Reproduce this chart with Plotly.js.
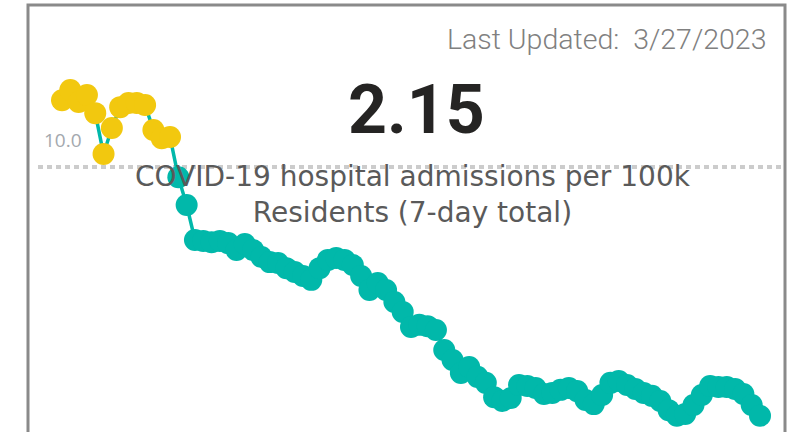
<!DOCTYPE html>
<html>
<head>
<meta charset="utf-8">
<script src="https://cdn.plot.ly/plotly-3.0.1.min.js"></script>
<style>
html,body{margin:0;padding:0;background:#fff;overflow:hidden;}
#chart{width:795px;height:432px;}
</style>
</head>
<body>
<div id="chart"></div>
<script>
// Data (daily 7-day total hospital admissions per 100k residents)
const dates = [
 '2023-01-01','2023-01-02','2023-01-03','2023-01-04','2023-01-05','2023-01-06','2023-01-07',
 '2023-01-08','2023-01-09','2023-01-10','2023-01-11','2023-01-12','2023-01-13','2023-01-14',
 '2023-01-15','2023-01-16','2023-01-17','2023-01-18','2023-01-19','2023-01-20','2023-01-21',
 '2023-01-22','2023-01-23','2023-01-24','2023-01-25','2023-01-26','2023-01-27','2023-01-28',
 '2023-01-29','2023-01-30','2023-01-31','2023-02-01','2023-02-02','2023-02-03','2023-02-04',
 '2023-02-05','2023-02-06','2023-02-07','2023-02-08','2023-02-09','2023-02-10','2023-02-11',
 '2023-02-12','2023-02-13','2023-02-14','2023-02-15','2023-02-16','2023-02-17','2023-02-18',
 '2023-02-19','2023-02-20','2023-02-21','2023-02-22','2023-02-23','2023-02-24','2023-02-25',
 '2023-02-26','2023-02-27','2023-02-28','2023-03-01','2023-03-02','2023-03-03','2023-03-04',
 '2023-03-05','2023-03-06','2023-03-07','2023-03-08','2023-03-09','2023-03-10','2023-03-11',
 '2023-03-12','2023-03-13','2023-03-14','2023-03-15','2023-03-16','2023-03-17','2023-03-18',
 '2023-03-19','2023-03-20','2023-03-21','2023-03-22','2023-03-23','2023-03-24','2023-03-25',
 '2023-03-26'
];
const admissions = [
 12.11,12.43,12.05,12.27,11.70,10.41,11.23,11.89,12.02,12.02,11.96,11.17,10.91,10.95,
 9.68,8.80,7.70,7.67,7.63,7.67,7.60,7.38,7.57,7.38,7.16,7.00,6.97,6.81,6.69,6.56,6.44,
 6.81,7.07,7.13,7.07,6.91,6.56,6.12,6.34,6.12,5.74,5.43,4.95,5.02,4.98,4.86,4.23,3.91,
 3.50,3.69,3.38,3.19,2.74,2.62,2.71,3.12,3.09,3.03,2.84,2.87,2.97,3.03,2.93,2.65,2.52,
 2.81,3.19,3.25,3.12,3.00,2.87,2.78,2.62,2.33,2.15,2.21,2.49,2.81,3.09,3.06,3.06,3.00,
 2.84,2.49,2.15
];
const threshold = 10.0;
const thresholdLabel = '10.0';
const currentValue = '2.15';
const lastUpdated = 'Last Updated:  3/27/2023';
const subtitle = 'COVID-19 hospital admissions per 100k<br>Residents (7-day total)';

const YELLOW = '#F2C80F';
const TEAL = '#01B8AA';
const markerColors = admissions.map(v => v >= threshold ? YELLOW : TEAL);

// x range so that first point sits at ~62px and last at ~760px
const dayMs = 86400000;
const t0 = Date.parse(dates[0] + 'T00:00:00Z');
const tN = Date.parse(dates[dates.length - 1] + 'T00:00:00Z');
const pxPerDay = (760 - 62) / ((tN - t0) / dayMs);
const xr0 = new Date(t0 - (62 / pxPerDay) * dayMs).toISOString();
const xr1 = new Date(t0 + ((795 - 62) / pxPerDay) * dayMs).toISOString();

const trace = {
  x: dates,
  y: admissions,
  type: 'scatter',
  mode: 'lines+markers',
  line: {color: TEAL, width: 3.5},
  marker: {size: 22, color: markerColors, line: {width: 0}},
  hoverinfo: 'x+y'
};

const layout = {
  width: 795,
  height: 432,
  margin: {l: 0, r: 0, t: 0, b: 0},
  paper_bgcolor: '#ffffff',
  plot_bgcolor: '#ffffff',
  showlegend: false,
  xaxis: {type: 'date', range: [xr0, xr1], visible: false, fixedrange: true},
  yaxis: {range: [1.64, 15.27], visible: false, fixedrange: true},
  shapes: [
    {type: 'line', xref: 'paper', yref: 'y', x0: 38/795, x1: 783/795, y0: threshold, y1: threshold,
     line: {color: '#cccccc', width: 4, dash: '5px,4px'}, layer: 'below'},
    {type: 'rect', xref: 'paper', yref: 'paper', x0: 28/795, x1: 785/795, y0: -0.2, y1: 1 - 5/432,
     line: {color: '#8a8a8a', width: 3}, fillcolor: 'rgba(0,0,0,0)', layer: 'above'}
  ],
  annotations: [
    {text: lastUpdated, xref: 'paper', yref: 'paper', x: 768/795, y: 1 - 40/432,
     xanchor: 'right', yanchor: 'middle', showarrow: false,
     font: {family: 'Roboto, sans-serif', size: 28.5, color: '#808080', weight: 300}},
    {text: currentValue, xref: 'paper', yref: 'paper', x: 416/795, y: 1 - 110/432,
     xanchor: 'center', yanchor: 'middle', showarrow: false,
     font: {family: 'Roboto, sans-serif', size: 68, color: '#252423', weight: 'bold'}},
    {text: subtitle, xref: 'paper', yref: 'paper', x: 413/795, y: 1 - 194/432,
     xanchor: 'center', yanchor: 'middle', showarrow: false, align: 'center',
     font: {family: 'DejaVu Sans, sans-serif', size: 28, color: '#5a5a5a'}},
    {text: thresholdLabel, xref: 'paper', yref: 'y', x: 42/795, y: threshold,
     xanchor: 'left', yanchor: 'middle', yshift: 27, showarrow: false,
     font: {family: 'Open Sans, sans-serif', size: 19, color: '#a3a8ae'}}
  ]
};

Plotly.newPlot('chart', [trace], layout, {displayModeBar: false, staticPlot: true});
</script>
</body>
</html>
